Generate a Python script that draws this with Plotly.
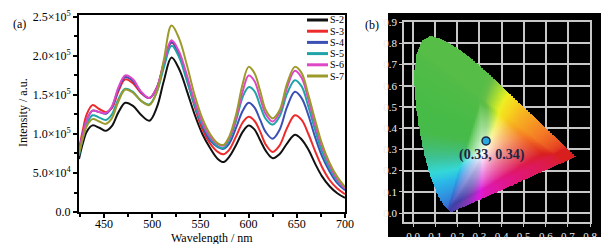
import numpy as np
import plotly.graph_objects as go

# ---------------- data: emission spectra (panel a) ----------------
wavelength = [424, 428, 432, 438, 445, 452, 458, 465, 472, 480, 488, 497, 505, 512, 520, 528,
              536, 544, 552, 560, 568, 574, 580, 587, 594, 600, 606, 612, 618, 625, 632, 640,
              648, 655, 662, 669, 676, 684, 692, 700]
s2 = [68, 88, 103, 111, 108, 104, 110, 128, 140, 136, 125, 117, 135, 168, 198, 183,
      155, 125, 100, 82, 68, 64, 71, 86, 103, 111, 106, 92, 78, 69, 74, 88,
      99, 93, 80, 62, 46, 33, 24, 18]
s3 = [80, 105, 125, 137, 132, 128, 133, 155, 170, 165, 153, 146, 160, 190, 217, 202,
      170, 135, 106, 88, 77, 74, 80, 97, 115, 122, 117, 103, 86, 77, 85, 108,
      124, 118, 100, 78, 58, 41, 30, 23]
s4 = [78, 100, 118, 130, 128, 126, 134, 158, 173, 168, 154, 146, 160, 190, 218, 202,
      172, 138, 110, 92, 83, 81, 88, 108, 130, 140, 134, 118, 102, 94, 105, 135,
      154, 146, 124, 96, 72, 52, 37, 28]
s5 = [72, 95, 112, 124, 121, 118, 125, 145, 158, 154, 143, 138, 155, 185, 213, 198,
      168, 137, 112, 95, 84, 82, 92, 117, 148, 160, 155, 136, 119, 112, 122, 152,
      169, 161, 135, 105, 78, 56, 40, 30]
s6 = [78, 100, 118, 130, 128, 127, 135, 160, 175, 170, 155, 146, 160, 192, 220, 205,
      175, 142, 115, 97, 87, 85, 95, 120, 155, 175, 168, 146, 125, 116, 127, 160,
      181, 172, 144, 112, 84, 60, 42, 30]
s7 = [75, 95, 110, 119, 116, 113, 120, 142, 157, 153, 143, 137, 155, 195, 239, 222,
      188, 150, 120, 100, 88, 86, 97, 125, 165, 186, 178, 155, 130, 120, 130, 165,
      186, 178, 150, 118, 88, 63, 45, 32]
series_names = ["S-2", "S-3", "S-4", "S-5", "S-6", "S-7"]
series_values = [s2, s3, s4, s5, s6, s7]
series_colors = ["#111111", "#ee2b2b", "#3b4fb4", "#1ea4a6", "#de48c6", "#9c9a2a"]

x_ticks = [450, 500, 550, 600, 650, 700]
y_tickvals = [0, 5e4, 1e5, 1.5e5, 2e5, 2.5e5]
y_ticktext = ["0.0", "5.0×10<sup>4</sup>", "1.0×10<sup>5</sup>", "1.5×10<sup>5</sup>",
              "2.0×10<sup>5</sup>", "2.5×10<sup>5</sup>"]

# ---------------- data: CIE 1931 chromaticity (panel b) ----------------
locus_x = [0.1741, 0.1740, 0.1738, 0.1736, 0.1733, 0.1730, 0.1726, 0.1721, 0.1714, 0.1703,
           0.1689, 0.1669, 0.1644, 0.1611, 0.1566, 0.1510, 0.1440, 0.1355, 0.1241, 0.1096,
           0.0913, 0.0687, 0.0454, 0.0235, 0.0082, 0.0039, 0.0139, 0.0389, 0.0743, 0.1142,
           0.1547, 0.1929, 0.2296, 0.2658, 0.3016, 0.3373, 0.3731, 0.4087, 0.4441, 0.4788,
           0.5125, 0.5448, 0.5752, 0.6029, 0.6270, 0.6482, 0.6658, 0.6801, 0.6915, 0.7006,
           0.7079, 0.7140, 0.7190, 0.7230, 0.7260, 0.7283, 0.7300, 0.7311, 0.7320, 0.7334, 0.7347]
locus_y = [0.0050, 0.0050, 0.0049, 0.0049, 0.0048, 0.0048, 0.0048, 0.0048, 0.0051, 0.0058,
           0.0069, 0.0086, 0.0109, 0.0138, 0.0177, 0.0227, 0.0297, 0.0399, 0.0578, 0.0868,
           0.1327, 0.2007, 0.2950, 0.4127, 0.5384, 0.6548, 0.7502, 0.8120, 0.8338, 0.8262,
           0.8059, 0.7816, 0.7543, 0.7243, 0.6923, 0.6589, 0.6245, 0.5896, 0.5547, 0.5202,
           0.4866, 0.4544, 0.4242, 0.3965, 0.3725, 0.3514, 0.3340, 0.3197, 0.3083, 0.2993,
           0.2920, 0.2859, 0.2809, 0.2770, 0.2740, 0.2717, 0.2700, 0.2689, 0.2680, 0.2666, 0.2653]
cie_point_x = [0.33]
cie_point_y = [0.34]
cie_label = "(0.33, 0.34)"
cie_ticks_x = [0.0, 0.1, 0.2, 0.3, 0.4, 0.5, 0.6, 0.7, 0.8]
cie_ticks_y = [0.0, 0.1, 0.2, 0.3, 0.4, 0.5, 0.6, 0.7, 0.8, 0.9]

# ---------------- build gamut image ----------------
step = 0.003
gx = np.arange(0.0, 0.75 + step, step)
gy = np.arange(0.0, 0.85 + step, step)
GX, GY = np.meshgrid(gx, gy)
px = np.array(locus_x)
py = np.array(locus_y)
inside = np.zeros(GX.shape, dtype=bool)
n = len(px)
j = n - 1
for i in range(n):
    xi, yi, xj, yj = px[i], py[i], px[j], py[j]
    if yi != yj:
        cond = ((yi > GY) != (yj > GY)) & (GX < (xj - xi) * (GY - yi) / (yj - yi) + xi)
        inside ^= cond
    j = i

ye = np.maximum(GY + 0.05, 1e-4)
Xc = GX / ye
Zc = np.clip(1 - GX - ye, 0, None) / ye
R = 3.2406 * Xc - 1.5372 - 0.4986 * Zc
G = -0.9689 * Xc + 1.8758 + 0.0415 * Zc
B = 0.0557 * Xc - 0.2040 + 1.0570 * Zc
rgb = np.clip(np.stack([R, G, B], -1), 0, None)
rgb = rgb / (rgb.max(-1, keepdims=True) + 1e-9)
rgb = np.where(rgb <= 0.0031308, 12.92 * rgb, 1.055 * np.power(rgb, 1 / 2.4) - 0.055)
mx = rgb.max(-1)
mn = rgb.min(-1)
d = mx - mn
sat = np.where(mx > 0, d / np.maximum(mx, 1e-9), 0)
r, g, b = rgb[..., 0], rgb[..., 1], rgb[..., 2]
dd = np.maximum(d, 1e-9)
hue = np.where(mx == r, ((g - b) / dd) % 6, np.where(mx == g, (b - r) / dd + 2, (r - g) / dd + 4)) * 60
hue = np.interp(hue, [0, 40, 70, 100, 168, 185, 200, 235, 265, 300, 360],
                [0, 35, 58, 108, 122, 165, 195, 228, 245, 310, 360])
hue_tab = [0, 25, 50, 70, 100, 125, 160, 195, 215, 240, 270, 300, 330, 360]
smax_tab = [0.86, 0.85, 0.88, 0.82, 0.63, 0.62, 0.68, 0.82, 0.76, 0.62, 0.66, 0.88, 0.90, 0.86]
v_tab = [0.85, 0.96, 0.97, 0.90, 0.75, 0.73, 0.76, 0.91, 0.84, 0.66, 0.68, 0.86, 0.88, 0.85]
sf = np.clip(sat * 1.3, 0, 1)
S2 = sf * np.interp(hue, hue_tab, smax_tab)
V2 = 1 - sf * (1 - np.interp(hue, hue_tab, v_tab))
hh = (hue / 60.0) % 6
C = V2 * S2
Xh = C * (1 - np.abs(hh % 2 - 1))
m = V2 - C
k = np.clip(np.floor(hh).astype(int), 0, 5)
zero = 0 * C
rr = np.choose(k, [C, Xh, zero, zero, Xh, C])
gg = np.choose(k, [Xh, C, C, Xh, zero, zero])
bb = np.choose(k, [zero, zero, Xh, C, C, Xh])
img = np.stack([(rr + m) * 255, (gg + m) * 255, (bb + m) * 255], -1).round().astype(int)
alpha = inside.astype(int)
z = np.concatenate([img, alpha[..., None]], -1).tolist()

# ---------------- figure ----------------
# the page body keeps its default 8px margin, so the figure is sized to fit inside it
OFF = 8
W, H = 614 - 2 * OFF, 252 - 2 * OFF
def fx(p):
    return (p - OFF) / W
def fy(p):
    return 1 - (p - OFF) / H

SERIF = "Liberation Serif"
fig = go.Figure()

for name, vals, col in zip(series_names, series_values, series_colors):
    fig.add_trace(go.Scatter(
        x=wavelength, y=[v * 1000 for v in vals], mode="lines", name=name,
        line=dict(color=col, width=2, shape="spline", smoothing=1.0),
        xaxis="x", yaxis="y", showlegend=False))

fig.add_trace(go.Image(z=z, x0=0.0, dx=step, y0=0.0, dy=step, colormodel="rgba",
                       xaxis="x2", yaxis="y2", hoverinfo="skip"))
fig.add_trace(go.Scatter(x=cie_point_x, y=cie_point_y, mode="markers",
                         marker=dict(color="#2aa9e0", size=8, line=dict(color="#1b2a48", width=1.5)),
                         xaxis="x2", yaxis="y2", showlegend=False))

shapes = [dict(type="rect", xref="paper", yref="paper", x0=fx(388), x1=fx(601), y0=fy(237), y1=fy(13),
               fillcolor="black", line=dict(width=0), layer="below")]
annotations = []
for i, (name, col) in enumerate(zip(series_names, series_colors)):
    yy = 20 + i * 11.2
    shapes.append(dict(type="line", xref="paper", yref="paper", x0=fx(307), x1=fx(328),
                       y0=fy(yy), y1=fy(yy), line=dict(color=col, width=3)))
    annotations.append(dict(text=name, xref="paper", yref="paper", x=fx(328), y=fy(yy),
                            xanchor="left", yanchor="middle", showarrow=False,
                            font=dict(family=SERIF, size=10, color="black")))

def ann(text, x, y, size=12, angle=0, color="black"):
    return dict(text=text, xref="paper", yref="paper", x=fx(x), y=fy(y), textangle=angle,
                xanchor="center", yanchor="middle", showarrow=False,
                font=dict(family=SERIF, size=size, color=color))

annotations += [
    ann("Intensity / a.u.", 23, 113, angle=-90),
    ann("Wavelength / nm", 212, 237.5),
    ann("(a)", 19, 24),
    ann("(b)", 372, 25),
    dict(text="<b>" + cie_label + "</b>", xref="x2", yref="y2", x=0.355, y=0.274,
         xanchor="center", yanchor="middle", showarrow=False,
         font=dict(family=SERIF, size=14, color="#1c2541")),
]

grid_col = "#c8c8c8"
fig.update_layout(
    width=W, height=H, margin=dict(l=0, r=0, t=0, b=0),
    paper_bgcolor="white", plot_bgcolor="rgba(0,0,0,0)",
    showlegend=False, shapes=shapes, annotations=annotations,
    font=dict(family=SERIF, color="black"),
    xaxis=dict(domain=[fx(79), fx(345)], range=[424, 700], tickmode="array", tickvals=x_ticks,
               ticks="outside", ticklen=4, tickwidth=1.5, tickcolor="black", ticklabelstandoff=-4,
               minor=dict(tickmode="linear", tick0=425, dtick=25, ticks="outside", ticklen=3,
                          tickwidth=1.5, tickcolor="black", showgrid=False),
               showline=True, linecolor="black", linewidth=2, mirror=True,
               showgrid=False, zeroline=False, anchor="y", automargin=False,
               tickfont=dict(family=SERIF, size=12, color="black")),
    yaxis=dict(domain=[fy(212), fy(15)], range=[0, 2.525e5], tickmode="array",
               tickvals=y_tickvals, ticktext=y_ticktext,
               ticks="outside", ticklen=4, tickwidth=1.5, tickcolor="black",
               minor=dict(tickmode="linear", tick0=0, dtick=25000, ticks="outside", ticklen=3,
                          tickwidth=1.5, tickcolor="black", showgrid=False),
               showline=True, linecolor="black", linewidth=2, mirror=True,
               showgrid=False, zeroline=False, anchor="x", automargin=False,
               tickfont=dict(family=SERIF, size=12, color="black")),
    xaxis2=dict(domain=[fx(404), fx(590)], range=[-0.041, 0.8], tickmode="array", tickvals=cie_ticks_x,
                ticktext=["%.1f" % v for v in cie_ticks_x],
                ticks="outside", ticklen=3, tickwidth=1, tickcolor=grid_col,
                showline=True, linecolor=grid_col, linewidth=1.5, mirror=True,
                showgrid=True, gridcolor=grid_col, gridwidth=1.5, zeroline=False, anchor="y2",
                automargin=False, tickfont=dict(family=SERIF, size=11, color="#ececec")),
    yaxis2=dict(domain=[fy(222), fy(22)], range=[-0.042, 0.9], tickmode="array",
                tickvals=cie_ticks_y, ticktext=["%.1f" % v for v in cie_ticks_y],
                ticks="outside", ticklen=3, tickwidth=1, tickcolor=grid_col,
                showline=True, linecolor=grid_col, linewidth=1.5, mirror=True,
                showgrid=True, gridcolor=grid_col, gridwidth=1.5, zeroline=False, anchor="x2",
                autorange=False, scaleanchor=False, automargin=False,
                tickfont=dict(family=SERIF, size=11, color="#ececec")),
)

fig.write_html("out.html")
